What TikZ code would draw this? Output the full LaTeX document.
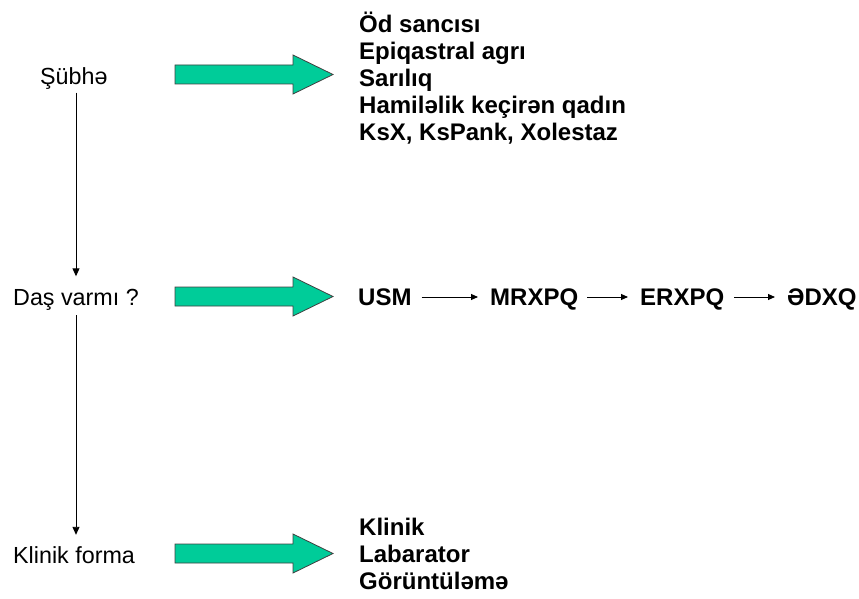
\documentclass[tikz,border=0pt]{standalone}
\usepackage{fontspec}
\setmainfont{Liberation Sans}
\usetikzlibrary{arrows.meta}
\definecolor{arrowgreen}{RGB}{0,204,153}

\begin{document}
\begin{tikzpicture}[x=1pt,y=-1pt,
	txt/.style={inner sep=0pt,anchor=west,text height=17pt,text depth=0pt,font=\fontsize{23.3}{27}\selectfont},
	bold/.style={txt,font=\fontsize{24}{27}\selectfont\bfseries},
	down/.style={-{Triangle[length=8pt,width=7pt]},line width=0.9pt},
	chain/.style={-{Triangle[length=7pt,width=6pt]},line width=0.9pt},
	bigarrow/.style={fill=arrowgreen,draw=black!75,line width=0.8pt,line join=miter}]
			\useasboundingbox (0,0) rectangle (859,599);
			% left column
			\node [txt] (subhe) at (40,76) {Şübhə};
			\node [txt] (dasvar) at (13,297) {Daş varmı ?};
			\node [txt] (forma) at (13,555) {Klinik forma};
			\draw [down, shorten <=8pt, shorten >=12pt] (dasvar.north |- subhe.south) -- (dasvar.north);
			\draw [down, shorten <=9.5pt, shorten >=11.5pt] (dasvar.south) -- (dasvar.south |- forma.north);
			% green arrows
			\draw [bigarrow] (175,65) -- (293,65) -- (293,55) -- (333,74.5) -- (293,94) -- (293,84) -- (175,84) -- cycle;
			\draw [bigarrow] (175,287) -- (293,287) -- (293,277) -- (333,296.5) -- (293,316) -- (293,306) -- (175,306) -- cycle;
			\draw [bigarrow] (175,544) -- (293,544) -- (293,534) -- (333,553.5) -- (293,573) -- (293,563) -- (175,563) -- cycle;
			% first list
			\node [bold] (od) at (359,24) {Öd sancısı};
			\node [bold] (epi) at (359,51) {Epiqastral agrı};
			\node [bold] (sari) at (359,78) {Sarılıq};
			\node [bold] (hami) at (359,105) {Hamiləlik keçirən qadın};
			\node [bold] (ksx) at (359,132) {KsX, KsPank, Xolestaz};
			% second row
			\node [bold] (usm) at (358,297) {USM};
			\node [bold] (mrxpq) at (490,297) {MRXPQ};
			\node [bold] (erxpq) at (640,297) {ERXPQ};
			\node [bold] (edxq) at (787,297) {ƏDXQ};
			\draw [chain, shorten <=10pt, shorten >=12pt] (usm.east) -- (mrxpq.west);
			\draw [chain, shorten <=9pt, shorten >=12pt] (mrxpq.east) -- (erxpq.west);
			\draw [chain, shorten <=10pt, shorten >=12pt] (erxpq.east) -- (edxq.west);
			% third list
			\node [bold] (klinik) at (359,527) {Klinik};
			\node [bold] (lab) at (359,554) {Labarator};
			\node [bold] (gor) at (359,581) {Görüntüləmə};
		\end{tikzpicture}
\end{document}
